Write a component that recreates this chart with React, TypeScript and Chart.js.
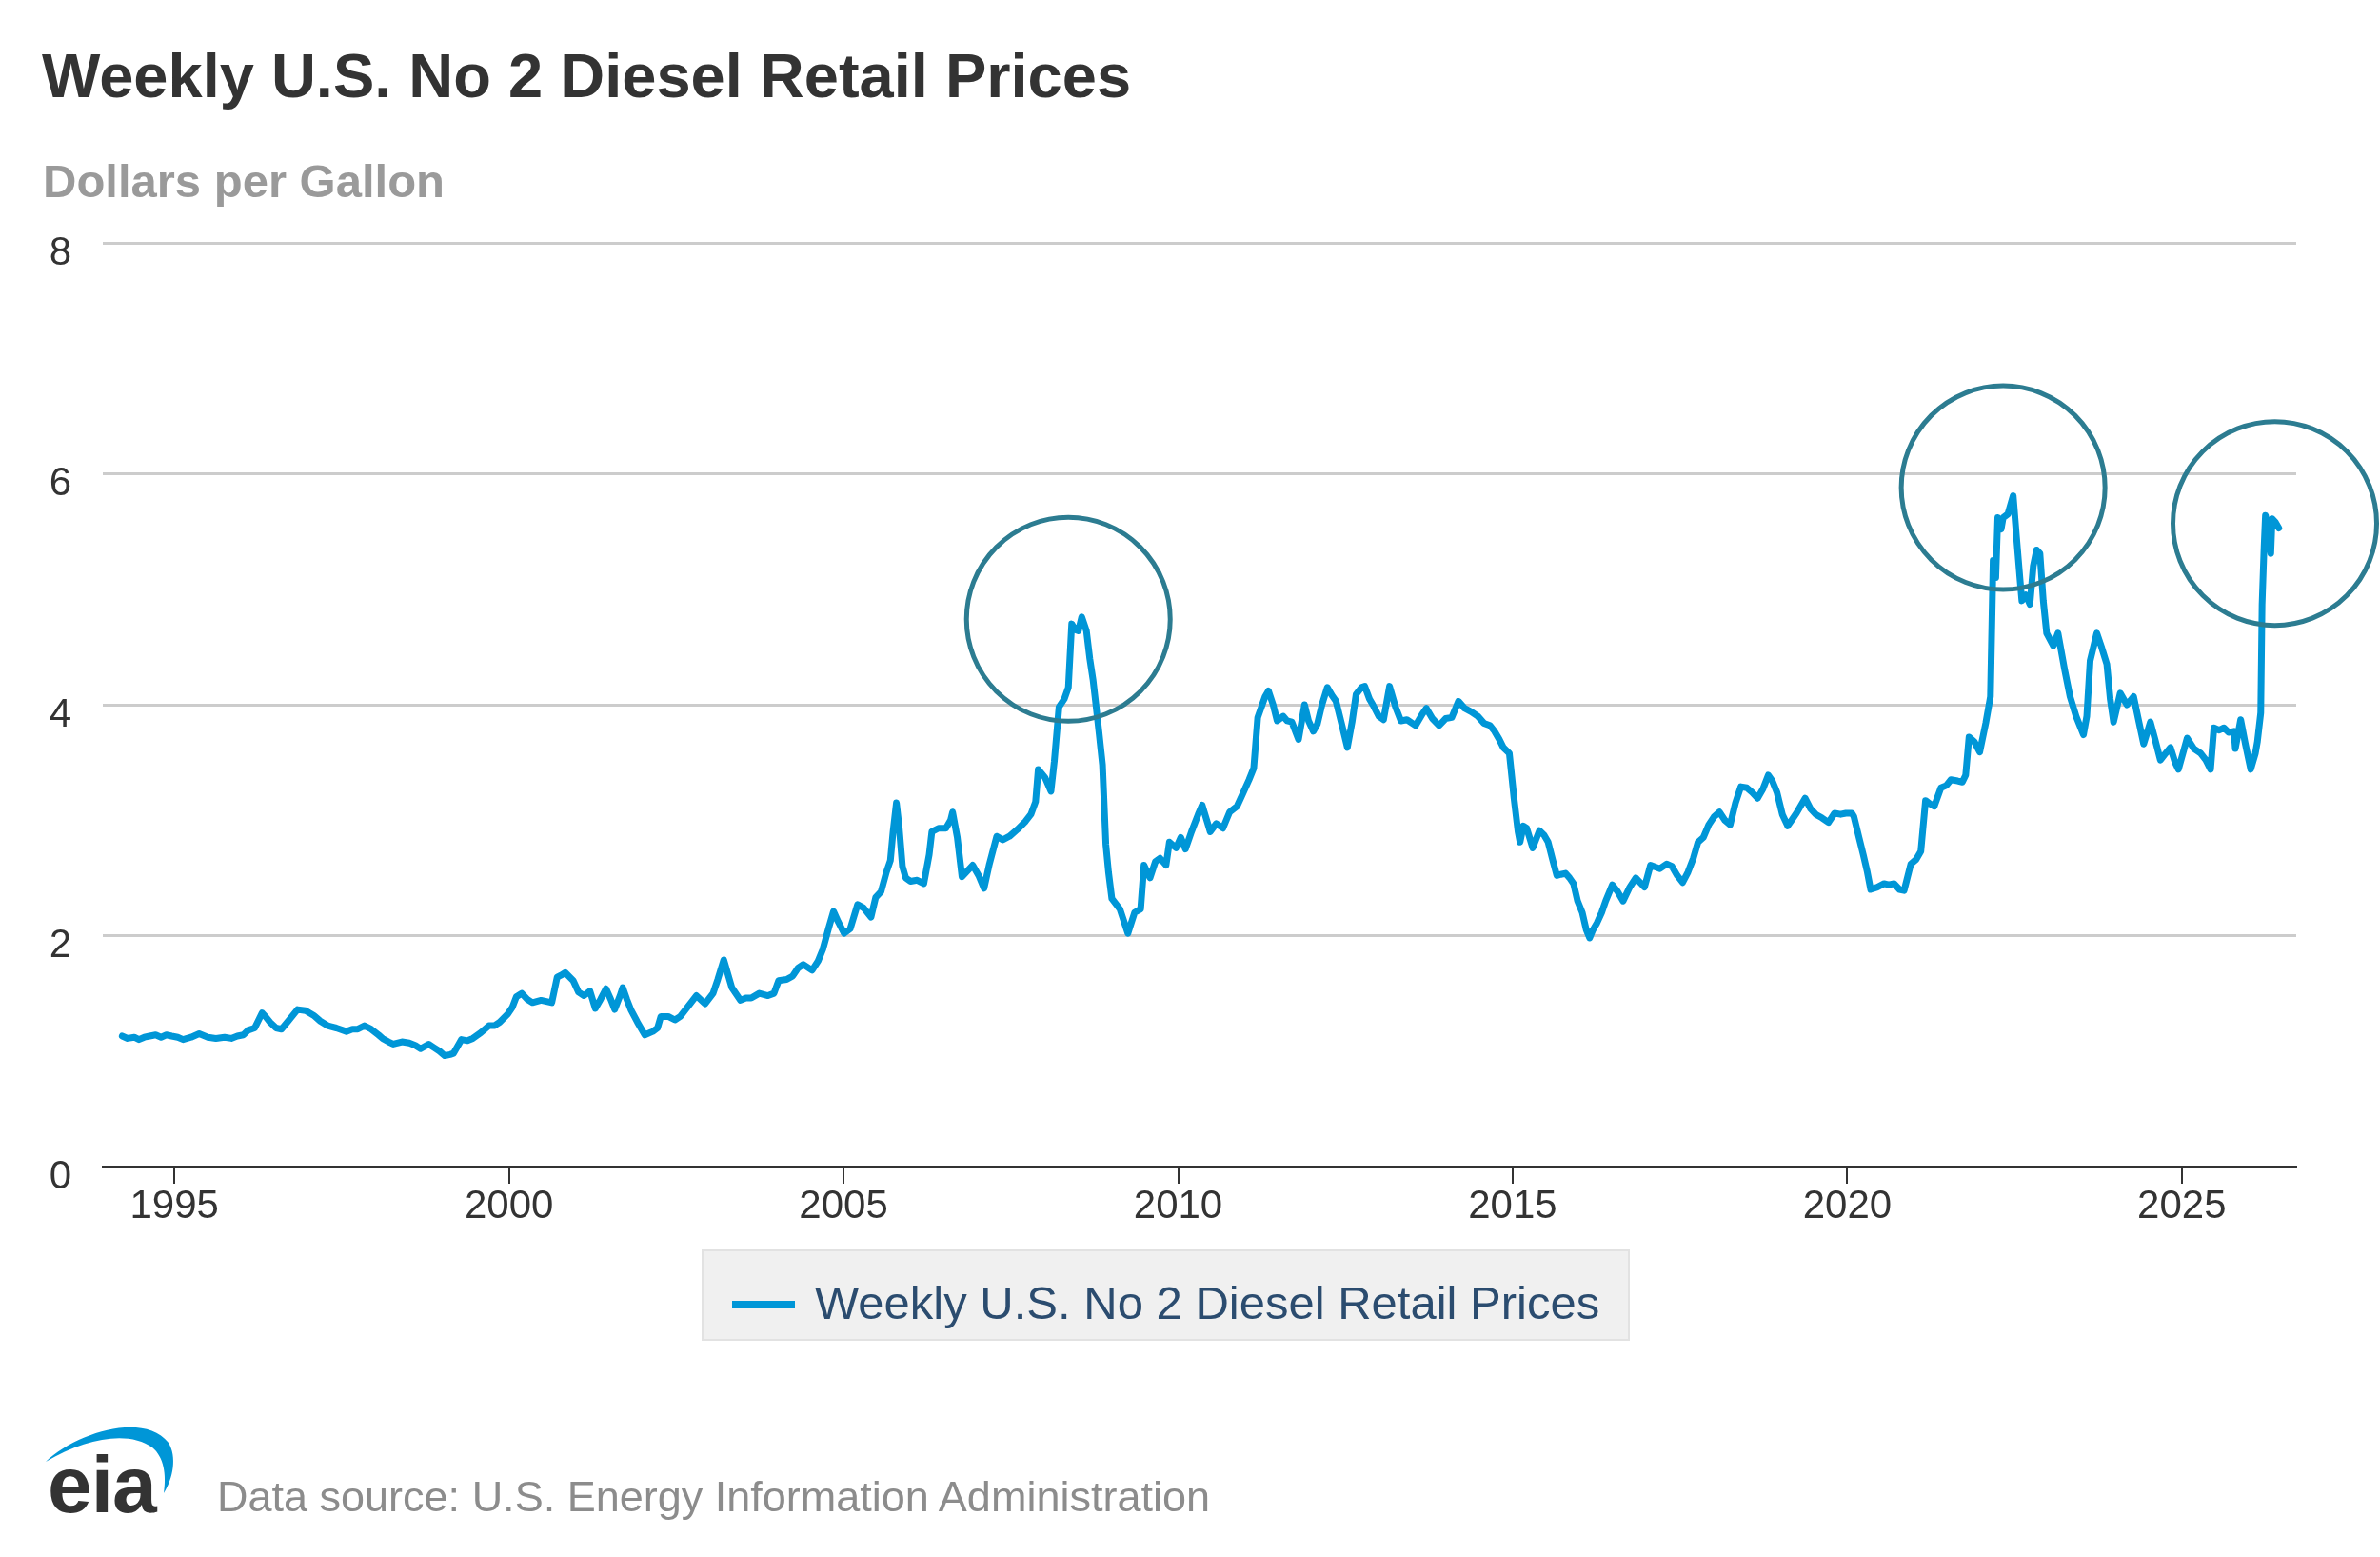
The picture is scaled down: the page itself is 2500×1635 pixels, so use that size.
import React, { useEffect, useRef } from "react";
import { Chart, registerables } from "chart.js";

Chart.register(...registerables);

const chartTitle = "Weekly U.S. No 2 Diesel Retail Prices";
const unitLabel = "Dollars per Gallon";
const seriesName = "Weekly U.S. No 2 Diesel Retail Prices";
const sourceText = "Data source: U.S. Energy Information Administration";

const xTickYears = [1995, 2000, 2005, 2010, 2015, 2020, 2025];
const yTickValues = [0, 2, 4, 6, 8];

// 1994 - 2004 (decimal years, dollars per gallon)
const times1994to2004 = [
  1994.22, 1994.3, 1994.4, 1994.47, 1994.55, 1994.63, 1994.72, 1994.8, 1994.88, 1994.96,
  1995.05, 1995.13, 1995.25, 1995.37, 1995.5, 1995.62, 1995.75, 1995.85, 1995.94,
  1996.03, 1996.1, 1996.2, 1996.31, 1996.36, 1996.43, 1996.52, 1996.6, 1996.7, 1996.84, 1996.96,
  1997.08, 1997.18, 1997.29, 1997.42, 1997.57, 1997.66, 1997.74, 1997.84, 1997.94,
  1998.05, 1998.11, 1998.2, 1998.27, 1998.4, 1998.51, 1998.6, 1998.68, 1998.8, 1998.88, 1998.96,
  1999.04, 1999.12, 1999.17, 1999.25, 1999.29, 1999.38, 1999.46, 1999.58, 1999.7, 1999.78, 1999.86, 1999.98,
  2000.05, 2000.11, 2000.19, 2000.27, 2000.35, 2000.48, 2000.56, 2000.64, 2000.72, 2000.79, 2000.84, 2000.96,
  2001.04, 2001.12, 2001.21, 2001.29, 2001.37, 2001.45, 2001.52, 2001.58, 2001.66, 2001.7, 2001.76, 2001.82, 2001.92,
  2002.03, 2002.15, 2002.22, 2002.27, 2002.38, 2002.48, 2002.56, 2002.64, 2002.72, 2002.8, 2002.93,
  2003.05, 2003.12, 2003.21, 2003.27, 2003.33, 2003.46, 2003.54, 2003.62, 2003.74, 2003.87, 2003.96,
  2004.03, 2004.15, 2004.24, 2004.32, 2004.4, 2004.53, 2004.62, 2004.69, 2004.78, 2004.85, 2004.92,
];
const prices1994to2004 = [
  1.13, 1.11, 1.12, 1.1, 1.12, 1.13, 1.14, 1.12, 1.14, 1.13,
  1.12, 1.1, 1.12, 1.15, 1.12, 1.11, 1.12, 1.11, 1.13,
  1.14, 1.18, 1.2, 1.33, 1.3, 1.25, 1.2, 1.19, 1.26, 1.36, 1.35,
  1.31, 1.26, 1.22, 1.2, 1.17, 1.19, 1.19, 1.22, 1.19,
  1.14, 1.11, 1.08, 1.06, 1.08, 1.07, 1.05, 1.02, 1.06, 1.03, 1.0,
  0.96, 0.97, 0.98, 1.06, 1.1, 1.09, 1.11, 1.16, 1.22, 1.22, 1.25, 1.32,
  1.38, 1.47, 1.5, 1.45, 1.42, 1.44, 1.43, 1.42, 1.64, 1.66, 1.68, 1.61,
  1.51, 1.48, 1.52, 1.37, 1.45, 1.54, 1.45, 1.36, 1.48, 1.55, 1.45, 1.36, 1.25,
  1.14, 1.17, 1.2, 1.3, 1.3, 1.27, 1.3, 1.36, 1.42, 1.48, 1.41,
  1.5, 1.62, 1.79, 1.67, 1.55, 1.44, 1.46, 1.46, 1.5, 1.48, 1.5,
  1.61, 1.62, 1.65, 1.72, 1.75, 1.7, 1.78, 1.88, 2.07, 2.21, 2.12,
];

// 2005 - 2014
const times2005to2014 = [
  2005.01, 2005.1, 2005.21, 2005.3, 2005.41, 2005.48, 2005.56, 2005.64, 2005.7, 2005.74, 2005.79, 2005.83, 2005.88, 2005.93,
  2006.0, 2006.1, 2006.2, 2006.28, 2006.32, 2006.42, 2006.53, 2006.6, 2006.63, 2006.7, 2006.77, 2006.85, 2006.93,
  2007.02, 2007.1, 2007.18, 2007.29, 2007.38, 2007.48, 2007.6, 2007.72, 2007.8, 2007.87, 2007.91,
  2008.01, 2008.1, 2008.15, 2008.22, 2008.3, 2008.36, 2008.41, 2008.46, 2008.51, 2008.56, 2008.63, 2008.68, 2008.73, 2008.77, 2008.82, 2008.87, 2008.92, 2008.96,
  2009.01, 2009.13, 2009.25, 2009.35, 2009.44, 2009.49, 2009.58, 2009.66, 2009.73, 2009.82, 2009.87, 2009.97,
  2010.04, 2010.11, 2010.2, 2010.3, 2010.36, 2010.48, 2010.57, 2010.67, 2010.77, 2010.88, 2010.96,
  2011.06, 2011.13, 2011.19, 2011.3, 2011.35, 2011.42, 2011.48, 2011.57, 2011.63, 2011.7, 2011.8, 2011.89, 2011.95,
  2012.02, 2012.08, 2012.15, 2012.23, 2012.3, 2012.36, 2012.45, 2012.53, 2012.6, 2012.66, 2012.74, 2012.79, 2012.86, 2012.91,
  2013.0, 2013.07, 2013.16, 2013.25, 2013.33, 2013.42, 2013.55, 2013.65, 2013.71, 2013.8, 2013.9,
  2014.0, 2014.09, 2014.19, 2014.28, 2014.38, 2014.48, 2014.57, 2014.66, 2014.73, 2014.8, 2014.86, 2014.95,
];
const prices2005to2014 = [
  2.02, 2.06, 2.27, 2.24, 2.16, 2.33, 2.38, 2.55, 2.65, 2.9, 3.15, 2.95, 2.6, 2.5,
  2.47, 2.48, 2.45, 2.7, 2.9, 2.93, 2.93, 3.0, 3.07, 2.85, 2.51, 2.56, 2.61,
  2.52, 2.41, 2.62, 2.86, 2.83, 2.86, 2.92, 2.99, 3.05, 3.16, 3.44,
  3.37, 3.25, 3.51, 3.98, 4.05, 4.15, 4.7, 4.65, 4.64, 4.76, 4.64, 4.4, 4.21, 4.01, 3.75, 3.48, 2.79, 2.55,
  2.32, 2.23, 2.02, 2.2, 2.23, 2.61, 2.5, 2.64, 2.67, 2.61, 2.81, 2.76,
  2.85, 2.75, 2.9, 3.05, 3.13, 2.9, 2.97, 2.93, 3.07, 3.12, 3.22,
  3.35, 3.45, 3.89, 4.07, 4.12, 4.0, 3.86, 3.9, 3.86, 3.85, 3.7, 4.0, 3.86,
  3.77, 3.83, 4.0, 4.15, 4.08, 4.03, 3.82, 3.63, 3.85, 4.09, 4.15, 4.16, 4.05, 4.0,
  3.9, 3.87, 4.16, 3.98, 3.86, 3.87, 3.82, 3.92, 3.97, 3.88, 3.82,
  3.88, 3.89, 4.03, 3.97, 3.94, 3.9, 3.84, 3.82, 3.77, 3.7, 3.63, 3.58,
];

// 2015 - 2026
const times2015to2026 = [
  2015.02, 2015.08, 2015.11, 2015.16, 2015.21, 2015.3, 2015.4, 2015.47, 2015.53, 2015.6, 2015.66, 2015.72, 2015.79, 2015.85, 2015.91, 2015.97,
  2016.04, 2016.1, 2016.15, 2016.2, 2016.26, 2016.33, 2016.39, 2016.49, 2016.57, 2016.65, 2016.75, 2016.84, 2016.92, 2016.97,
  2017.06, 2017.2, 2017.3, 2017.38, 2017.46, 2017.54, 2017.62, 2017.7, 2017.77, 2017.85, 2017.93,
  2018.01, 2018.09, 2018.17, 2018.25, 2018.33, 2018.41, 2018.5, 2018.58, 2018.66, 2018.74, 2018.82, 2018.88, 2018.95,
  2019.03, 2019.11, 2019.17, 2019.24, 2019.3, 2019.37, 2019.45, 2019.53, 2019.62, 2019.72, 2019.81, 2019.9, 2019.98,
  2020.07, 2020.1, 2020.18, 2020.24, 2020.3, 2020.35, 2020.45, 2020.55, 2020.62, 2020.7, 2020.78, 2020.85, 2020.95,
  2021.03, 2021.1, 2021.17, 2021.24, 2021.3, 2021.4, 2021.48, 2021.55, 2021.65, 2021.72, 2021.77, 2021.82, 2021.9, 2021.98,
  2022.07, 2022.14, 2022.18, 2022.22, 2022.25, 2022.3, 2022.33, 2022.4, 2022.48, 2022.53, 2022.58, 2022.61, 2022.67, 2022.73, 2022.78, 2022.83, 2022.88, 2022.93, 2022.98,
  2023.08, 2023.15, 2023.25, 2023.33, 2023.42, 2023.53, 2023.58, 2023.63, 2023.73, 2023.8, 2023.88, 2023.93, 2023.98,
  2024.08, 2024.18, 2024.28, 2024.36, 2024.43, 2024.53, 2024.6, 2024.68, 2024.76, 2024.83, 2024.9, 2024.95,
  2025.08, 2025.18, 2025.28, 2025.36, 2025.43, 2025.48, 2025.56, 2025.63, 2025.7, 2025.78, 2025.8, 2025.88, 2025.95,
  2026.03, 2026.1, 2026.13, 2026.18, 2026.2, 2026.23, 2026.25, 2026.28, 2026.33, 2026.35, 2026.4, 2026.45,
];
const prices2015to2026 = [
  3.19, 2.9, 2.81, 2.95, 2.93, 2.76, 2.91, 2.87, 2.81, 2.65, 2.52, 2.53, 2.54, 2.5, 2.45, 2.3,
  2.2, 2.05, 1.98, 2.05, 2.11, 2.2, 2.3, 2.44, 2.38, 2.3, 2.42, 2.5, 2.45, 2.42,
  2.61, 2.58, 2.62, 2.6, 2.52, 2.46, 2.55, 2.67, 2.81, 2.85, 2.96,
  3.03, 3.07, 3.0, 2.96, 3.15, 3.29, 3.28, 3.24, 3.19, 3.27, 3.39, 3.34, 3.24,
  3.05, 2.95, 3.0, 3.06, 3.12, 3.19, 3.1, 3.05, 3.02, 2.98, 3.06, 3.05, 3.06,
  3.06, 3.03, 2.84, 2.7, 2.55, 2.4, 2.42, 2.45, 2.44, 2.45, 2.4, 2.39, 2.62,
  2.66, 2.73, 3.17, 3.14, 3.12, 3.28, 3.3, 3.35, 3.34, 3.33, 3.39, 3.72, 3.68, 3.59,
  3.84, 4.07, 5.25, 5.1, 5.62, 5.52, 5.62, 5.65, 5.81, 5.45, 5.1, 4.9, 4.95, 4.87, 5.2, 5.34, 5.31, 4.9, 4.62,
  4.51, 4.62, 4.3, 4.07, 3.9, 3.74, 3.9, 4.38, 4.62, 4.5, 4.35, 4.05, 3.85,
  4.1, 4.0, 4.07, 3.85, 3.66, 3.85, 3.7, 3.52, 3.58, 3.63, 3.5, 3.44,
  3.71, 3.62, 3.58, 3.52, 3.44, 3.8, 3.78, 3.8, 3.76, 3.77, 3.62, 3.87, 3.66,
  3.44, 3.58, 3.68, 3.93, 4.87, 5.37, 5.64, 5.55, 5.31, 5.61, 5.58, 5.53,
];

// highlighted peaks (circle centres, in data units)
const highlightYears = [2008.36, 2022.33, 2026.39];
const highlightValues = [4.74, 5.88, 5.57];

const FONT = "'Liberation Sans', Arial, Helvetica, sans-serif";

function zip(t: number[], p: number[]) {
  const n = Math.min(t.length, p.length);
  const out: { x: number; y: number }[] = [];
  for (let i = 0; i < n; i++) out.push({ x: t[i], y: p[i] });
  return out;
}

const highlightPlugin = {
  id: "highlightCircles",
  afterDatasetsDraw(chart: any) {
    const { ctx, scales } = chart;
    const xs = scales.x;
    const ys = scales.y;
    ctx.save();
    ctx.strokeStyle = "#2c7c91";
    ctx.lineWidth = 5;
    highlightYears.forEach((yr, i) => {
      ctx.beginPath();
      ctx.arc(xs.getPixelForValue(yr), ys.getPixelForValue(highlightValues[i]), 107, 0, Math.PI * 2);
      ctx.stroke();
    });
    ctx.restore();
  },
};

export default function App() {
  const canvasRef = useRef<HTMLCanvasElement | null>(null);

  useEffect(() => {
    document.body.style.margin = "0";
    const canvas = canvasRef.current;
    if (!canvas) return;
    const points = [
      ...zip(times1994to2004, prices1994to2004),
      ...zip(times2005to2014, prices2005to2014),
      ...zip(times2015to2026, prices2015to2026),
    ];
    const chart = new Chart(canvas, {
      type: "line",
      data: {
        datasets: [
          {
            label: seriesName,
            data: points,
            borderColor: "#0096d7",
            borderWidth: 7,
            pointRadius: 0,
            tension: 0,
            borderJoinStyle: "round",
            borderCapStyle: "round",
          } as any,
        ],
      },
      options: {
        responsive: false,
        animation: false,
        devicePixelRatio: 1,
        layout: { padding: { top: 255, left: 0, right: 88, bottom: 310 } },
        plugins: {
          legend: { display: false },
          tooltip: { enabled: false },
          title: { display: false },
        },
        scales: {
          x: {
            type: "linear",
            min: 1993.93,
            max: 2026.71,
            afterFit: (s: any) => {
              s.height = 100;
            },
            afterBuildTicks: (s: any) => {
              s.ticks = xTickYears.map((v) => ({ value: v }));
            },
            grid: {
              display: true,
              drawOnChartArea: false,
              drawTicks: true,
              tickLength: 18,
              color: "#333333",
              lineWidth: 2,
            },
            border: { display: true, color: "#333333", width: 3 },
            ticks: {
              autoSkip: false,
              maxRotation: 0,
              padding: -1,
              color: "#333333",
              font: { family: FONT, size: 42 },
              callback: (v: any) => String(v),
            },
          },
          y: {
            min: 0,
            max: 8,
            afterFit: (s: any) => {
              s.width = 108;
            },
            afterBuildTicks: (s: any) => {
              s.ticks = yTickValues.map((v) => ({ value: v }));
            },
            grid: { color: "#cccccc", lineWidth: 3, drawTicks: false },
            border: { display: false },
            ticks: {
              padding: 33,
              labelOffset: 11,
              color: "#333333",
              font: { family: FONT, size: 42 },
              callback: (v: any) => String(v),
            },
          },
        },
      },
      plugins: [highlightPlugin],
    });
    return () => chart.destroy();
  }, []);

  const abs = (o: React.CSSProperties): React.CSSProperties => ({
    position: "absolute",
    whiteSpace: "nowrap",
    fontFamily: FONT,
    ...o,
  });

  return (
    <div style={{ position: "relative", width: 2500, height: 1635, background: "#ffffff", overflow: "hidden" }}>
      <canvas ref={canvasRef} width={2500} height={1635} style={{ position: "absolute", left: 0, top: 0, width: 2500, height: 1635 }} />
      <div style={abs({ left: 44, top: 47, fontSize: 65, lineHeight: "65px", fontWeight: 700, color: "#333333" })}>{chartTitle}</div>
      <div style={abs({ left: 45, top: 166, fontSize: 49, lineHeight: "49px", fontWeight: 700, color: "#9a9a9a" })}>{unitLabel}</div>
      <div
        style={abs({
          left: 737,
          top: 1312,
          width: 975,
          height: 96,
          background: "#f0f0f0",
          border: "2px solid #e2e2e2",
          boxSizing: "border-box",
        })}
      />
      <div style={abs({ left: 769, top: 1366, width: 66, height: 8, background: "#0096d7" })} />
      <div style={abs({ left: 856, top: 1344, fontSize: 49, lineHeight: "49px", color: "#2b4c6f" })}>{seriesName}</div>
      <svg style={{ position: "absolute", left: 0, top: 1460, overflow: "visible" }} width={240} height={175}>
        <path
          d="M 48 75 C 80 45, 150 22, 177 55 C 186 70, 182 92, 172 108 C 175 88, 172 70, 160 60 C 135 42, 90 50, 48 75 Z"
          fill="#0096d7"
        />
      </svg>
      <div style={abs({ left: 50, top: 1517, fontSize: 84, lineHeight: "84px", fontWeight: 700, color: "#333333", letterSpacing: -1 })}>eia</div>
      <div style={abs({ left: 228, top: 1549, fontSize: 45, lineHeight: "45px", color: "#8c8c8c" })}>{sourceText}</div>
    </div>
  );
}
